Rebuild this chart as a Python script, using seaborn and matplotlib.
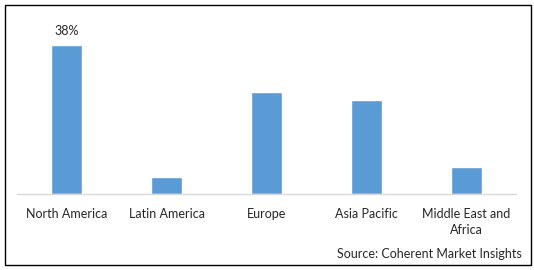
import matplotlib
matplotlib.use("Agg")
import matplotlib.pyplot as plt
import matplotlib.patches as mpatches
import seaborn as sns
import pandas as pd

regions = ["North America", "Latin America", "Europe", "Asia Pacific", "Middle East and\nAfrica"]
shares = [38, 4.3, 26, 24, 6.9]
bar_labels = ["38%", "", "", "", ""]
source_text = "Source: Coherent Market Insights"

df = pd.DataFrame({"region": regions, "share": shares})

sns.set_style("white")
plt.rcParams["font.family"] = ["Lato", "DejaVu Sans"]

W, H = 534, 270
fig = plt.figure(figsize=(W / 100, H / 100), dpi=100)
ax = fig.add_axes([17 / W, 1 - 194 / H, (516 - 17) / W, (194 - 10) / H])

sns.barplot(data=df, x="region", y="share", color="#5B9BD5", width=0.31,
            saturation=1, ax=ax)
ax.set_xlim(-0.5, len(regions) - 0.5)
ax.set_ylim(0, 47)
ax.set_xlabel("")
ax.set_ylabel("")
ax.set_yticks([])
for s in ["left", "right", "top"]:
    ax.spines[s].set_visible(False)
ax.spines["bottom"].set_color("#D9D9D9")
ax.spines["bottom"].set_linewidth(1.0)
ax.tick_params(axis="x", length=0, pad=10, labelsize=9, labelcolor="#262626")
for t in ax.get_xticklabels():
    t.set_linespacing(1.4)

ax.bar_label(ax.containers[0], labels=bar_labels, padding=6, fontsize=9,
             color="#262626")

fig.text(522 / W, 1 - 254 / H, source_text, ha="right", va="center",
         fontsize=9, color="#262626")

frame = mpatches.Rectangle((4.5 / W, 1 - 264.5 / H), (530.5 - 4.5) / W,
                           (264.5 - 4.5) / H, transform=fig.transFigure,
                           fill=False, edgecolor="black", linewidth=1.0)
fig.patches.append(frame)

fig.savefig("out.png", dpi=100)
